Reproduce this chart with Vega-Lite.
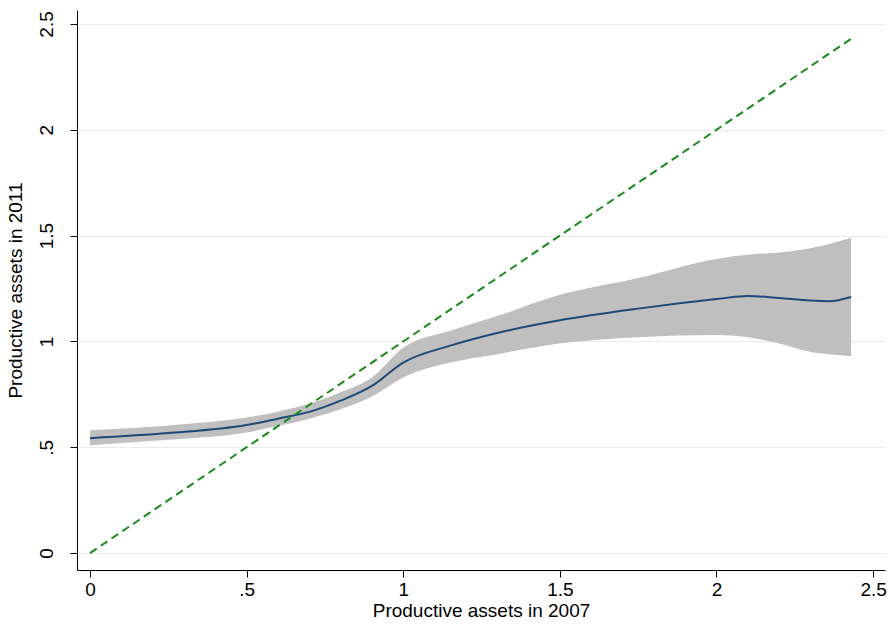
{
  "$schema": "https://vega.github.io/schema/vega-lite/v6.json",
  "width": 808,
  "height": 560,
  "autosize": "none",
  "padding": {"left": 77, "top": 10, "right": 5, "bottom": 61},
  "background": "white",
  "config": {"view": {"stroke": null}, "font": "Liberation Sans"},
  "datasets": {
    "fit": [
      {"x": 0, "y": 0.543, "lo": 0.51, "hi": 0.58},
      {"x": 0.25, "y": 0.567, "lo": 0.535, "hi": 0.603},
      {"x": 0.5, "y": 0.605, "lo": 0.57, "hi": 0.64},
      {"x": 0.6, "y": 0.635, "lo": 0.6, "hi": 0.668},
      {"x": 0.7, "y": 0.667, "lo": 0.635, "hi": 0.705},
      {"x": 0.8, "y": 0.72, "lo": 0.68, "hi": 0.76},
      {"x": 0.9, "y": 0.79, "lo": 0.74, "hi": 0.83},
      {"x": 1.0, "y": 0.9, "lo": 0.83, "hi": 0.97},
      {"x": 1.15, "y": 0.98, "lo": 0.9, "hi": 1.05},
      {"x": 1.3, "y": 1.04, "lo": 0.94, "hi": 1.12},
      {"x": 1.5, "y": 1.1, "lo": 0.99, "hi": 1.22},
      {"x": 1.75, "y": 1.155, "lo": 1.02, "hi": 1.3},
      {"x": 2.0, "y": 1.2, "lo": 1.03, "hi": 1.39},
      {"x": 2.1, "y": 1.215, "lo": 1.02, "hi": 1.41},
      {"x": 2.2, "y": 1.205, "lo": 0.99, "hi": 1.42},
      {"x": 2.3, "y": 1.193, "lo": 0.95, "hi": 1.44},
      {"x": 2.36, "y": 1.19, "lo": 0.94, "hi": 1.46},
      {"x": 2.43, "y": 1.21, "lo": 0.93, "hi": 1.49}
    ],
    "diag": [{"x": 0, "y": 0}, {"x": 2.43, "y": 2.43}]
  },
  "layer": [
    {
      "data": {"name": "fit"},
      "mark": {"type": "area", "color": "#bfbfbf", "opacity": 1, "interpolate": "monotone"},
      "encoding": {
        "x": {"field": "x", "type": "quantitative", "scale": {"domain": [-0.0415, 2.538], "nice": false, "zero": false},
          "axis": {"values": [0, 0.5, 1, 1.5, 2, 2.5], "format": "~g", "labelExpr": "replace(datum.label, /^0\\./, '.')", "title": "Productive assets in 2007",
            "grid": false, "domainColor": "black", "tickColor": "black", "tickSize": 7, "labelFontSize": 19, "labelColor": "black", "titleFontSize": 19, "titleFontWeight": "normal", "titleColor": "black", "titlePadding": 2, "labelPadding": 3}},
        "y": {"field": "lo", "type": "quantitative", "scale": {"domain": [-0.08, 2.566], "nice": false, "zero": false},
          "axis": {"values": [0, 0.5, 1, 1.5, 2, 2.5], "format": "~g", "labelExpr": "replace(datum.label, /^0\\./, '.')", "title": "Productive assets in 2011",
            "grid": true, "gridColor": "#eaeaea", "domainColor": "black", "tickColor": "black", "tickSize": 7, "labelAngle": 270, "labelAlign": "center", "labelBaseline": "bottom", "labelFontSize": 19, "labelColor": "black", "titleFontSize": 19, "titleFontWeight": "normal", "titleColor": "black", "titlePadding": 12, "labelPadding": 14}},
        "y2": {"field": "hi"}
      }
    },
    {
      "data": {"name": "fit"},
      "mark": {"type": "line", "color": "#1a4a7a", "strokeWidth": 2, "interpolate": "monotone"},
      "encoding": {"x": {"field": "x", "type": "quantitative"}, "y": {"field": "y", "type": "quantitative"}}
    },
    {
      "data": {"name": "diag"},
      "mark": {"type": "line", "color": "#1a8a1a", "strokeWidth": 2, "strokeDash": [8, 5]},
      "encoding": {"x": {"field": "x", "type": "quantitative"}, "y": {"field": "y", "type": "quantitative"}}
    }
  ]
}
